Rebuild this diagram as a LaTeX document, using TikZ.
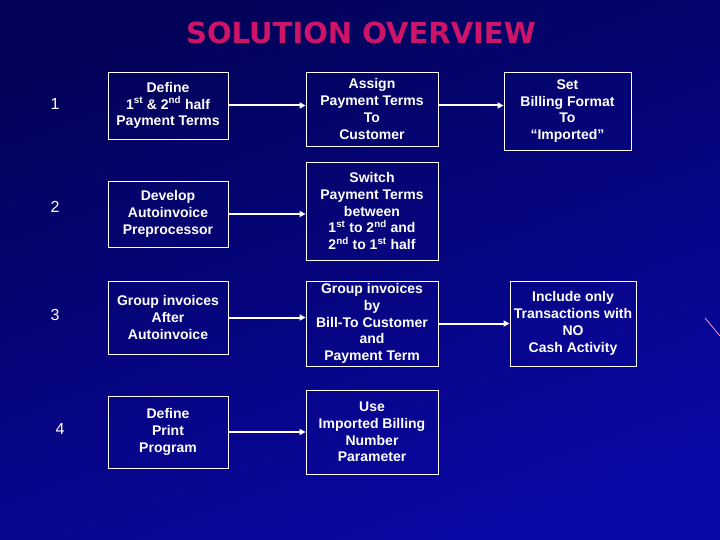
\documentclass[tikz,border=0pt]{standalone}
\usepackage{fontspec}
\setsansfont{Liberation Sans}
\newfontfamily\titlefont{DejaVu Sans}
\usepackage{tikz}
\usetikzlibrary{arrows.meta,positioning}
\definecolor{cBgDark}{RGB}{2,2,88}
\definecolor{cBgLight}{RGB}{10,8,165}
\definecolor{cTitle}{RGB}{205,20,105}

\begin{document}
\begin{tikzpicture}[x=1pt, y=-1pt,
  stepbox/.style={draw=white, line width=0.8pt, text=white, align=center, inner sep=0pt,
    font=\sffamily\bfseries\fontsize{14}{16.8}\selectfont},
  rownum/.style={text=white, font=\sffamily\fontsize{16}{18}\selectfont},
  flow/.style={draw=white, line width=2pt, -{Triangle[length=6pt,width=6pt]}}]
\useasboundingbox (0,0) rectangle (720,540);
% background
\shade[top color=cBgDark, bottom color=cBgLight, shading angle=20] (0,0) rectangle (720,540);
\draw[magenta!40!white, line width=0.8pt] (705,318) -- (720,336);
% title
\node[text=cTitle, font=\titlefont\bfseries\fontsize{29}{32}\selectfont] (title) at (361,33) {SOLUTION OVERVIEW};
% row numbers
\node[rownum] (n1) at (55,104) {1};
\node[rownum] (n2) at (55,207) {2};
\node[rownum] (n3) at (55,315) {3};
\node[rownum] (n4) at (60,429) {4};
% row 1
\node[stepbox, minimum width=120, minimum height=67] (define) at (168,105.5) {Define\\1\textsuperscript{st} \& 2\textsuperscript{nd} half\\Payment Terms};
\node[stepbox, minimum width=132, minimum height=74] (assign) at (372,109) {Assign\\Payment Terms\\To\\Customer};
\node[stepbox, minimum width=127, minimum height=78] (setfmt) at (567.5,111) {Set\\Billing Format\\To\\``Imported''};
% row 2
\node[stepbox, minimum width=120, minimum height=66] (develop) at (168,214) {Develop\\Autoinvoice\\Preprocessor};
\node[stepbox, minimum width=132, minimum height=98] (switch) at (372,211) {Switch\\Payment Terms\\between\\1\textsuperscript{st} to 2\textsuperscript{nd} and\\2\textsuperscript{nd} to 1\textsuperscript{st} half};
% row 3
\node[stepbox, minimum width=120, minimum height=73] (grpafter) at (168,317.5) {Group invoices\\After\\Autoinvoice};
\node[stepbox, minimum width=132, minimum height=85] (grpby) at (372,323.5) {Group invoices\\by\\Bill-To Customer\\and\\Payment Term};
\node[stepbox, minimum width=126, minimum height=85] (include) at (573,323.5) {Include only\\Transactions with\\NO\\Cash Activity};
% row 4
\node[stepbox, minimum width=120, minimum height=72] (print) at (168,432) {Define\\Print\\Program};
\node[stepbox, minimum width=132, minimum height=84] (usenum) at (372,432) {Use\\Imported Billing\\Number\\Parameter};
% arrows
\draw[flow] (define.east) -- (define.east -| assign.west);
\draw[flow] (assign.east |- define.east) -- (define.east -| setfmt.west);
\draw[flow] (develop.east) -- (develop.east -| switch.west);
\draw[flow] (grpafter.east) -- (grpafter.east -| grpby.west);
\draw[flow] (grpby.east) -- (include.west);
\draw[flow] (print.east) -- (usenum.west);
\end{tikzpicture}
\end{document}
